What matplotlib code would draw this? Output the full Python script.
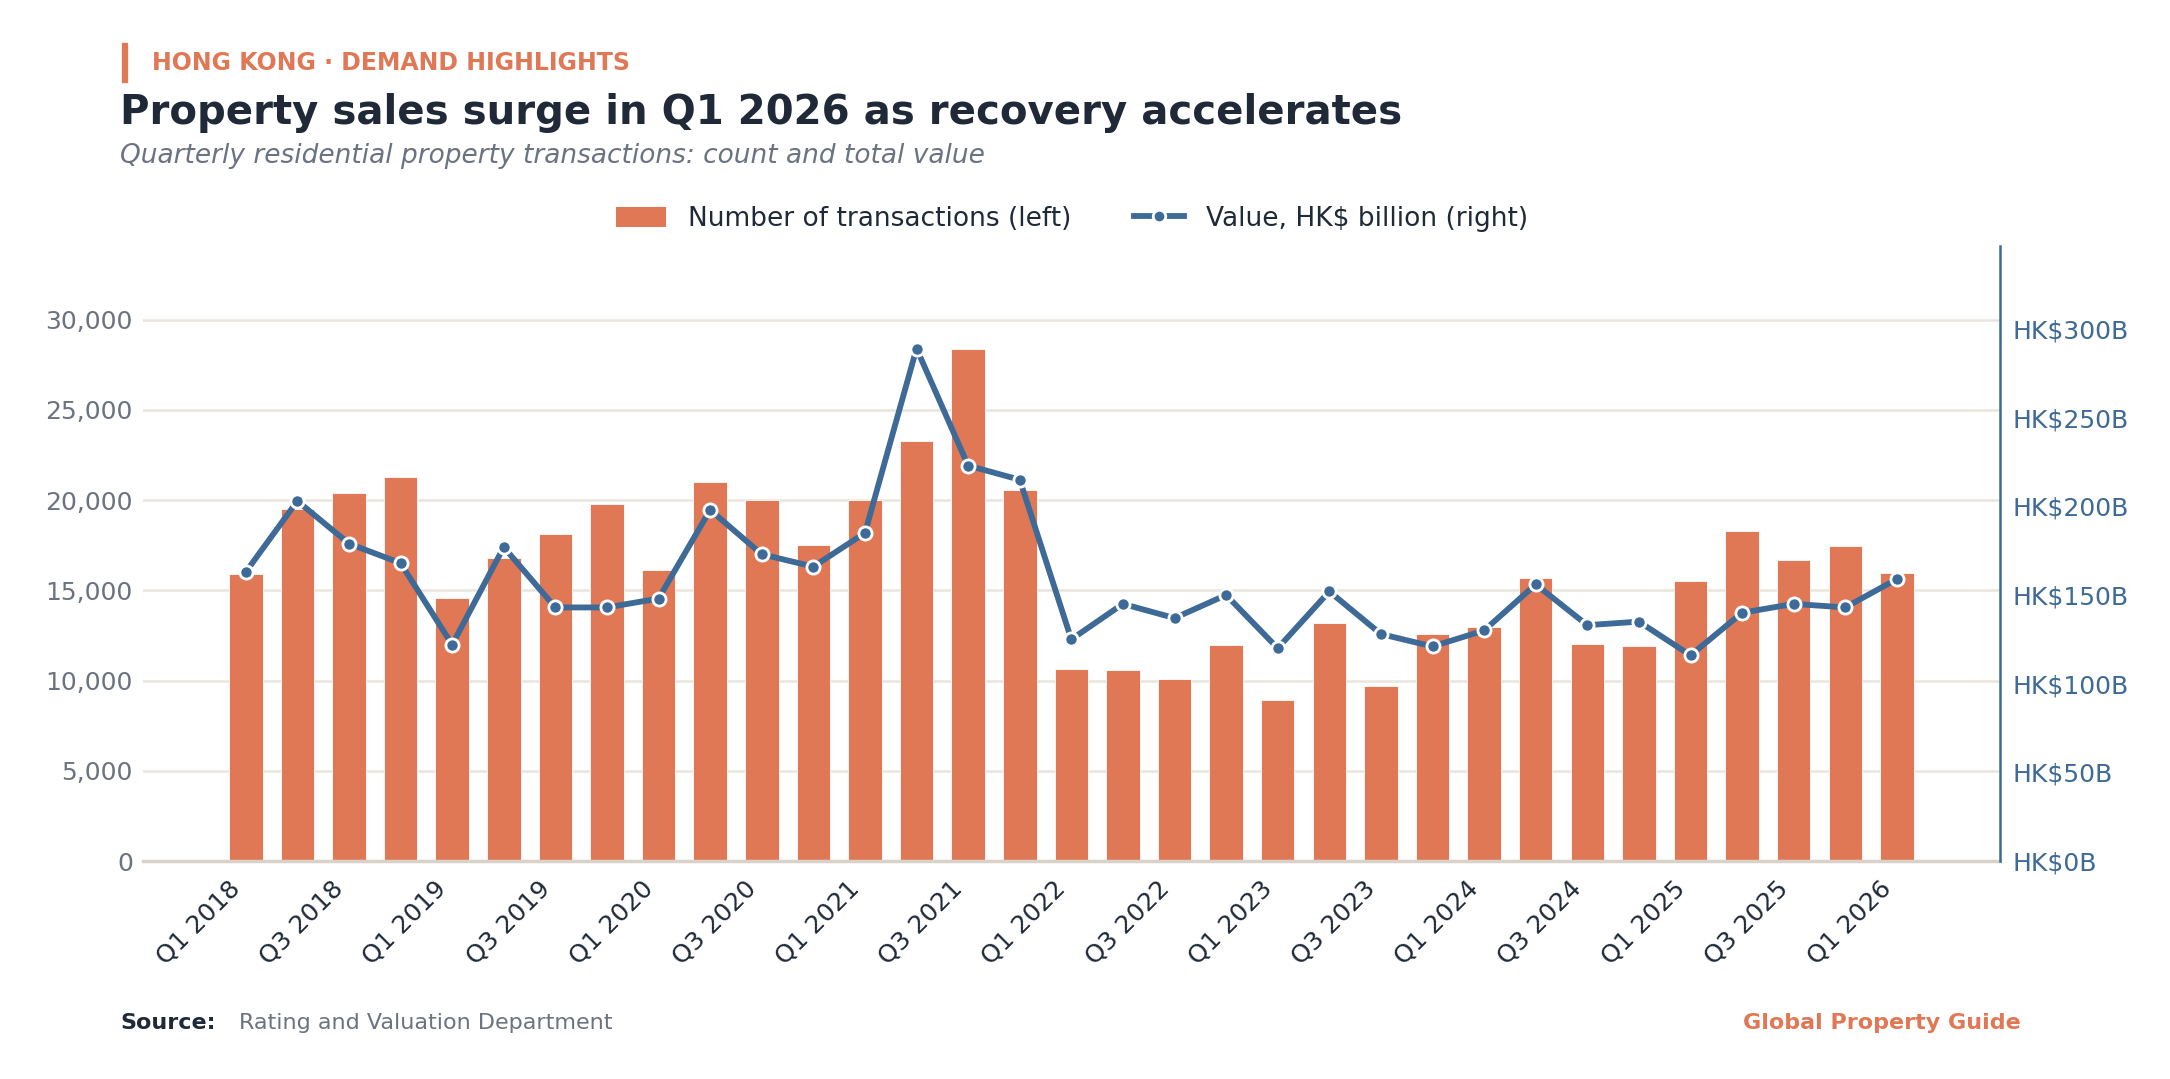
import matplotlib
matplotlib.use("Agg")
import matplotlib.pyplot as plt
import matplotlib.transforms as mtransforms
from matplotlib.lines import Line2D
from matplotlib.patches import Patch
from matplotlib.ticker import FuncFormatter

plt.rcParams["font.family"] = ["DejaVu Sans"]

ORANGE = "#e07856"
BLUE = "#3d6a96"
DARK = "#1f2937"
GRAY = "#6b7280"
GRID = "#e9e5dc"

quarters = [f"Q{q} {y}" for y in range(2018, 2026) for q in range(1, 5)] + ["Q1 2026"]

transactions = [
    15900, 19500, 20400, 21300, 14600, 16800, 18100, 19800,
    16100, 21000, 20000, 17500, 20000, 23300, 28400, 20550,
    10650, 10600, 10100, 11950, 8950, 13200, 9700, 12600,
    12950, 15700, 12000, 11900, 15500, 18300, 16700, 17450,
    15950,
]

value_bn = [
    163, 203, 179, 168, 122, 177, 143, 143,
    148, 198, 173, 166, 185, 289, 223, 215,
    125, 145, 137, 150, 120, 152, 128, 121,
    130, 156, 133, 135, 116, 140, 145, 143,
    159,
]

fig = plt.figure(figsize=(21.7, 10.79), dpi=100)
ax = fig.add_axes([0.0657, 0.202, 0.856, 0.570])
ax2 = ax.twinx()

x = list(range(len(quarters)))
ax.bar(x, transactions, width=0.65, color=ORANGE, edgecolor="white", linewidth=0.6, zorder=2)
ax2.plot(x, value_bn, color=BLUE, linewidth=4.2, marker="o", markersize=9.5,
         markerfacecolor=BLUE, markeredgecolor="white", markeredgewidth=2, zorder=3)

ax.set_xlim(-2, 34)
ax.set_ylim(0, max(transactions) * 1.2)
ax2.set_ylim(0, max(value_bn) * 1.2)

ax.set_yticks(range(0, 30001, 5000))
ax.yaxis.set_major_formatter(FuncFormatter(lambda v, _: f"{int(v):,}"))
ax.grid(axis="y", color=GRID, linewidth=1.8, zorder=0)
ax.set_axisbelow(True)
ax.tick_params(axis="y", length=0, pad=7, labelsize=18, labelcolor=GRAY)

ax.set_xticks(x[::2])
ax.set_xticklabels(quarters[::2], rotation=45, ha="right", va="center",
                   rotation_mode="anchor", fontsize=18, color=DARK)
ax.tick_params(axis="x", length=0, pad=16)
shift = mtransforms.ScaledTranslation(-0.09, -0.02, fig.dpi_scale_trans)
for label in ax.get_xticklabels():
    label.set_transform(label.get_transform() + shift)

ax2.set_yticks(range(0, 301, 50))
ax2.yaxis.set_major_formatter(FuncFormatter(lambda v, _: f"HK${int(v)}B"))
ax2.tick_params(axis="y", length=0, pad=9, labelsize=18, labelcolor=BLUE)

for a in (ax, ax2):
    for side in ("top", "left", "right", "bottom"):
        a.spines[side].set_visible(False)
ax.spines["bottom"].set_visible(True)
ax.spines["bottom"].set_color("#d8d2c8")
ax.spines["bottom"].set_linewidth(2.5)
ax2.spines["right"].set_visible(True)
ax2.spines["right"].set_color(BLUE)
ax2.spines["right"].set_linewidth(1.8)

handles = [
    Patch(facecolor=ORANGE, edgecolor="none", label="Number of transactions (left)"),
    Line2D([0], [0], color=BLUE, linewidth=4.2, marker="o", markersize=9,
           markerfacecolor=BLUE, markeredgecolor="white", markeredgewidth=2,
           label="Value, HK$ billion (right)"),
]
fig.legend(handles=handles, loc="center", bbox_to_anchor=(0.494, 0.797), ncol=2,
           frameon=False, fontsize=19, labelcolor=DARK, handlelength=1.9,
           handleheight=0.8, columnspacing=2.4, handletextpad=0.8)

fig.add_artist(Line2D([0.0574, 0.0574], [0.926, 0.957], color=ORANGE, linewidth=4.5))
fig.text(0.070, 0.942, "HONG KONG · DEMAND HIGHLIGHTS", fontsize=17, fontweight="bold",
         color=ORANGE, va="center")
fig.text(0.0553, 0.895, "Property sales surge in Q1 2026 as recovery accelerates",
         fontsize=29, fontweight="bold", color=DARK, va="center")
fig.text(0.0553, 0.855, "Quarterly residential property transactions: count and total value",
         fontsize=19, fontstyle="italic", color=GRAY, va="center")

fig.text(0.0553, 0.052, "Source:", fontsize=16, fontweight="bold", color=DARK, va="center")
fig.text(0.110, 0.052, "Rating and Valuation Department", fontsize=16, color=GRAY, va="center")
fig.text(0.931, 0.052, "Global Property Guide", fontsize=16, fontweight="bold",
         color=ORANGE, va="center", ha="right")

fig.savefig("out.png", dpi=100, facecolor="white")
